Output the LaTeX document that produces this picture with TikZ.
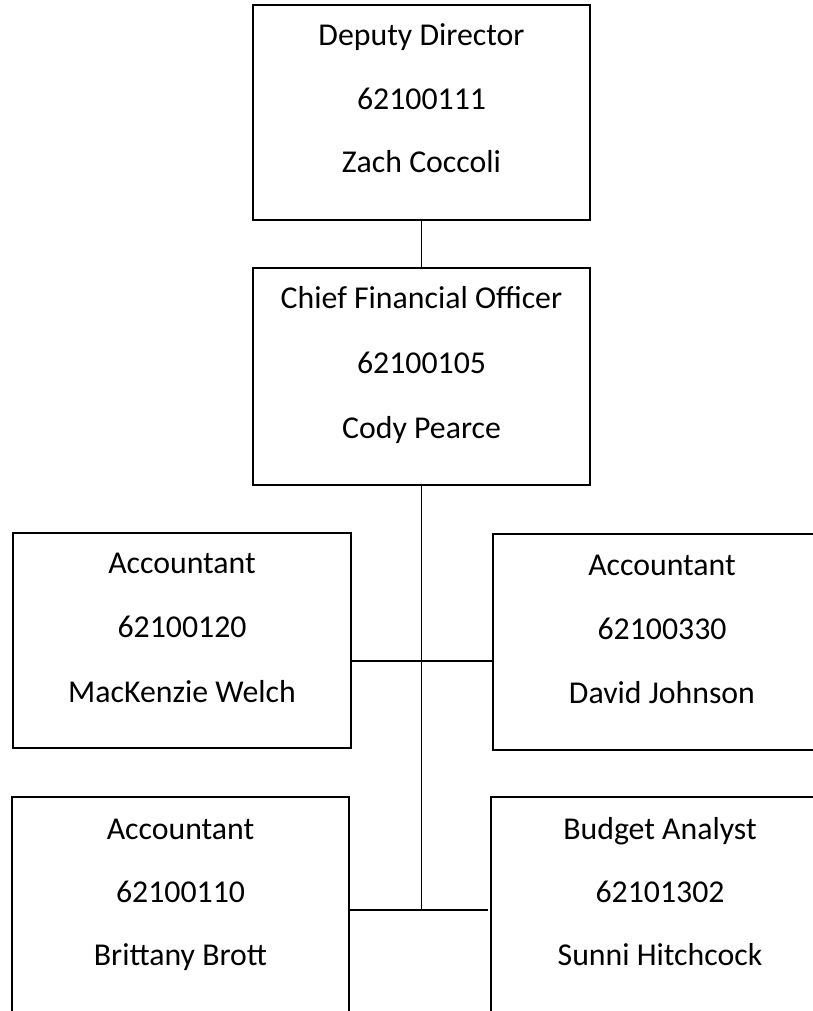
\documentclass[tikz,border=0pt]{standalone}
\usepackage{fontspec}
\setmainfont{Carlito}
\begin{document}
\begin{tikzpicture}[x=1pt,y=-1pt,
  box/.style={draw=black,line width=1.8pt,rectangle,inner sep=0pt,fill=none},
  txt/.style={anchor=base,inner sep=0pt,font=\fontsize{31.8}{37}\selectfont},
  conn/.style={draw=black,line width=1.6pt},
  thick conn/.style={draw=black,line width=2.6pt}]
\useasboundingbox (0,0) rectangle (813,1011);
\clip (0,0) rectangle (813,1011);
% boxes
\node[box,minimum width=337pt,minimum height=215pt] (dd) at (421.5,112.5) {};
\node[box,minimum width=337pt,minimum height=217pt] (cfo) at (421.5,376.5) {};
\node[box,minimum width=338pt,minimum height=215pt] (acc1) at (182,640.5) {};
\node[box,minimum width=338pt,minimum height=216pt] (acc2) at (662,642) {};
\node[box,minimum width=337pt,minimum height=215pt] (acc3) at (180.5,904.5) {};
\node[box,minimum width=338pt,minimum height=215pt] (ba) at (660,904.5) {};
% texts
\node[txt] (dd1) at (421.5,46) {Deputy Director};
\node[txt] (dd2) at (421.5,110) {62100111};
\node[txt] (dd3) at (421.5,173) {Zach Coccoli};
\node[txt] (cfo1) at (421.5,308) {Chief Financial Officer};
\node[txt] (cfo2) at (421.5,373) {62100105};
\node[txt] (cfo3) at (421.5,438) {Cody Pearce};
\node[txt] (acc1a) at (182,573) {Accountant};
\node[txt] (acc1b) at (182,637) {62100120};
\node[txt] (acc1c) at (182,702) {MacKenzie Welch};
\node[txt] (acc2a) at (662,575) {Accountant};
\node[txt] (acc2b) at (662,639) {62100330};
\node[txt] (acc2c) at (662,703) {David Johnson};
\node[txt] (acc3a) at (180.5,839) {Accountant};
\node[txt] (acc3b) at (180.5,902) {62100110};
\node[txt] (acc3c) at (180.5,965) {Brittany Brott};
\node[txt] (baa) at (660,839) {Budget Analyst};
\node[txt] (bab) at (660,902) {62101302};
\node[txt] (bac) at (660,965) {Sunni Hitchcock};
% connectors
\coordinate (j1) at (421.5,661);
\coordinate (j2) at (421.5,910);
\draw[conn] (dd.south) -- (cfo.north);
\draw[conn] (cfo.south) -- (j2);
\draw[conn] (acc1.east |- j1) -- (acc2.west |- j1);
\draw[thick conn] ([xshift=-2pt]acc3.east |- j2) -- ([xshift=-2pt]ba.west |- j2);
\end{tikzpicture}
\end{document}
